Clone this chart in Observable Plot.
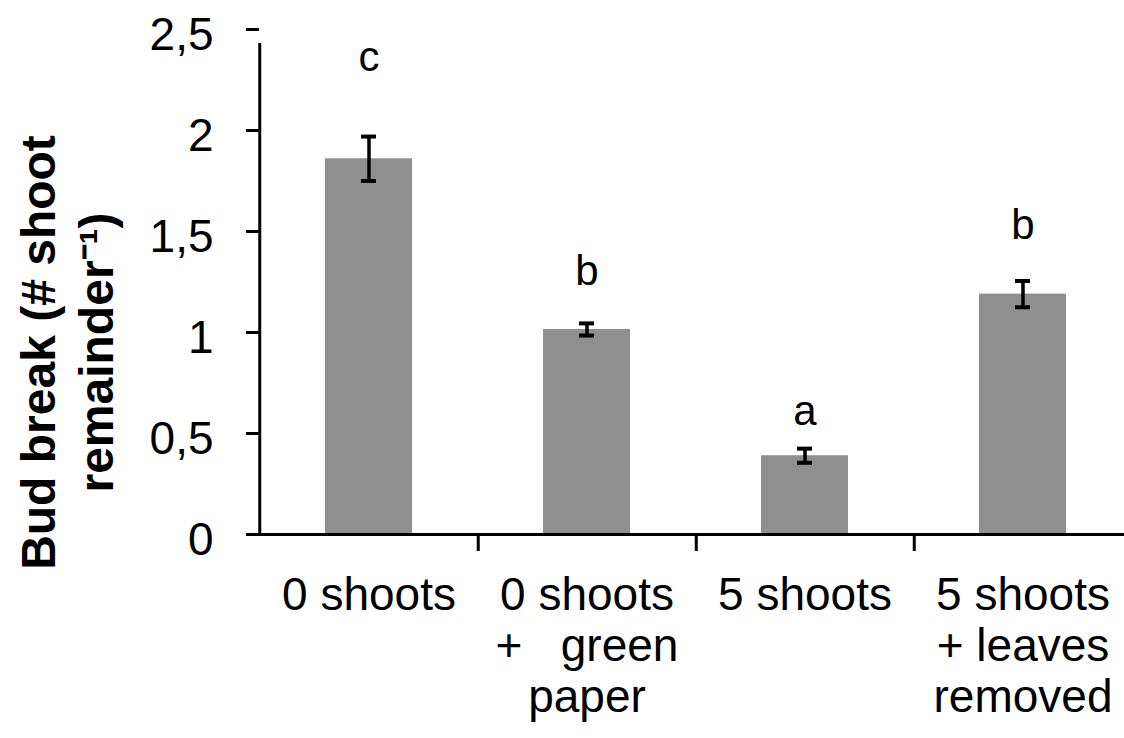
<!DOCTYPE html>
<html>
<head>
<meta charset="utf-8">
<script src="https://cdn.jsdelivr.net/npm/d3@7"></script>
<script src="https://cdn.jsdelivr.net/npm/@observablehq/plot@0.6"></script>
<style>
  html, body { margin: 0; padding: 0; background: #fff; }
</style>
</head>
<body>
<div id="chart"></div>
<script>
const categories = ["0 shoots", "0 shoots\n+   green\npaper", "5 shoots", "5 shoots\n+ leaves\nremoved"];
const means = [1.86, 1.015, 0.39, 1.19];
const errors = [0.11, 0.03, 0.035, 0.065];
const letters = ["c", "b", "a", "b"];
const letterPos = [2.36, 1.30, 0.61, 1.53];
const yTicks = [0, 0.5, 1, 1.5, 2, 2.5];
const yTitle = "Bud break (# shoot\nremainder\u207B\u00B9)";

const data = categories.map((c, i) => ({
  cat: c, mean: means[i], lo: means[i] - errors[i], hi: means[i] + errors[i],
  letter: letters[i], lpos: letterPos[i]
}));

const W = 1124, H = 738;
const xLeft = 259, xRight = 1133;
const step = (xRight - xLeft) / categories.length;
const font = "'Liberation Sans', Arial, sans-serif";

const chart = Plot.plot({
  width: W,
  height: H,
  marginLeft: xLeft,
  marginRight: 0,
  marginTop: 29,
  marginBottom: 204,
  style: { fontFamily: font, background: "#fff", color: "#000" },
  x: { domain: categories, range: [xLeft, xRight], paddingInner: 0.6, paddingOuter: 0.3, axis: null },
  y: { domain: [0, 2.5], axis: null },
  marks: [
    Plot.barY(data, { x: "cat", y: "mean", fill: "#8f8f8f" }),
    Plot.ruleX(data, { x: "cat", y1: "lo", y2: "hi", stroke: "#000", strokeWidth: 3.5 }),
    Plot.tickY(data, { x: "cat", y: "lo", stroke: "#000", strokeWidth: 4, insetLeft: 36, insetRight: 36 }),
    Plot.tickY(data, { x: "cat", y: "hi", stroke: "#000", strokeWidth: 4, insetLeft: 36, insetRight: 36 }),
    Plot.text(data, { x: "cat", y: "lpos", text: "letter", fontSize: 42, fill: "#000" }),
    // axis lines
    Plot.ruleY([0], { stroke: "#000", strokeWidth: 3, insetLeft: -13 }),
    Plot.ruleX([categories[0]], { y1: 0, y2: 2.5, dx: -step / 2, stroke: "#000", strokeWidth: 3, insetBottom: -14 }),
    // y axis ticks
    Plot.axisY({
      ticks: yTicks, text: null,
      tickSize: 13, strokeWidth: 3, stroke: "#000", label: null
    }),
    // y axis labels
    Plot.axisY({
      ticks: yTicks,
      tickFormat: d => String(d).replace(".", ","),
      tickSize: 0, tickPadding: 46,
      fontSize: 46, fill: "#000", dy: 6, label: null
    }),
    // x axis separator ticks
    Plot.axisX({
      ticks: categories.slice(0, categories.length - 1),
      text: null, tickSize: 17, strokeWidth: 3, stroke: "#000", dx: step / 2, label: null
    }),
    // x labels
    Plot.axisX({
      ticks: categories, tickSize: 0, tickPadding: 40,
      fontSize: 46, lineHeight: 1.1, fill: "#000", label: null
    }),
    // y title
    Plot.text([yTitle], {
      text: d => d, frameAnchor: "left", rotate: -90,
      dx: -194, dy: 70.5, fontSize: 48, fontWeight: "bold",
      lineHeight: 1.21, fill: "#000", textAnchor: "middle"
    })
  ]
});
document.getElementById("chart").appendChild(chart);
</script>
</body>
</html>
